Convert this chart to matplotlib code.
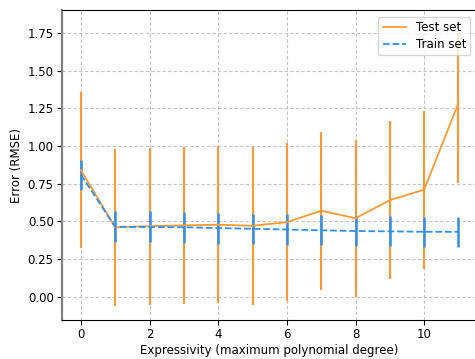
import numpy as np
import matplotlib
matplotlib.use('Agg')
import matplotlib.pyplot as plt
from matplotlib.lines import Line2D

degree = list(range(12))
# test / train RMSE with spread over repeated splits
test_mean = [0.84, 0.46, 0.467, 0.473, 0.477, 0.47, 0.494, 0.57, 0.52, 0.64, 0.71, 1.285]
test_err = [0.52, 0.52, 0.52, 0.52, 0.52, 0.525, 0.525, 0.525, 0.52, 0.525, 0.525, 0.53]
train_mean = [0.81, 0.463, 0.462, 0.46, 0.455, 0.45, 0.445, 0.44, 0.435, 0.433, 0.43, 0.43]
train_err = [0.10, 0.103, 0.103, 0.103, 0.103, 0.10, 0.10, 0.10, 0.10, 0.10, 0.10, 0.10]

test_color = '#ff9a33'
train_color = '#2f8ff0'

plt.rcParams['font.size'] = 8.5

fig = plt.figure(figsize=(4.75, 3.59), dpi=100)
ax = fig.add_axes([0.1305, 0.1086, 0.8745, 0.8634])

ax.errorbar(degree, test_mean, yerr=test_err, color=test_color, lw=1.3,
            elinewidth=1.5)
ax.errorbar(degree, train_mean, yerr=train_err, color=train_color, lw=1.3,
            ls='--', elinewidth=1.8)

ax.set_xlim(-0.55, 11.55)
ax.set_ylim(-0.156, 1.903)
ax.set_xticks([0, 2, 4, 6, 8, 10])
ax.set_yticks([0, 0.25, 0.5, 0.75, 1.0, 1.25, 1.5, 1.75])
ax.tick_params(axis='both', pad=2.5, length=3.5)
ax.grid(True, ls=(0, (3, 2)), color='#c4c4c4', lw=0.8)
ax.set_axisbelow(True)
ax.spines['left'].set_color('#808080')
ax.spines['left'].set_linewidth(1.6)
ax.spines['right'].set_visible(False)
ax.set_xlabel('Expressivity (maximum polynomial degree)', labelpad=2)
ax.set_ylabel('Error (RMSE)', labelpad=3)

handles = [Line2D([], [], color=test_color, lw=1.3),
           Line2D([], [], color=train_color, lw=1.3, ls='--')]
ax.legend(handles, ['Test set', 'Train set'], loc='upper right', fontsize=8.5,
          labelspacing=0.3, borderpad=0.35, borderaxespad=0.6)

fig.savefig('out.png', dpi=100)
